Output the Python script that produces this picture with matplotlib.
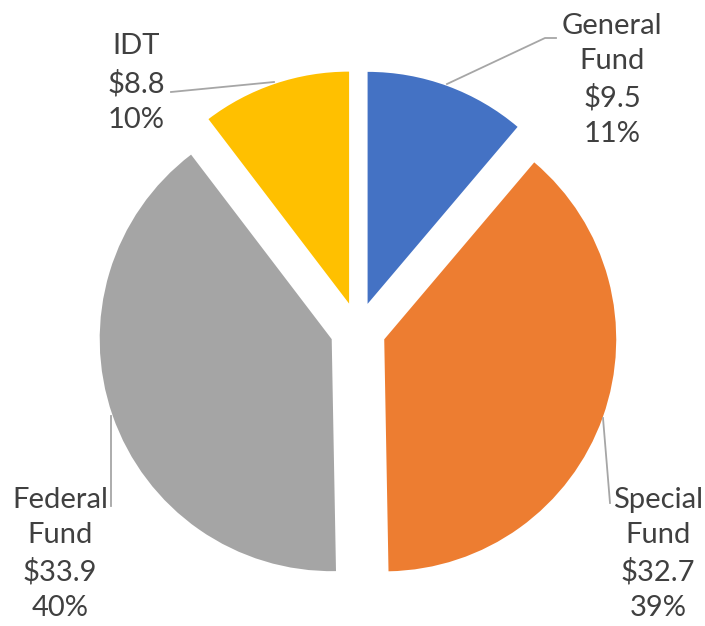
import matplotlib
matplotlib.use('Agg')
from matplotlib import pyplot as plt

# data
funds = ['General\nFund', 'Special\nFund', 'Federal\nFund', 'IDT']
amounts = [9.5, 32.7, 33.9, 8.8]
colors = ['#4472C4', '#ED7D31', '#A5A5A5', '#FFC000']

plt.rcParams['font.family'] = ['Lato', 'DejaVu Sans']

W, H = 705, 626
CX, CY, R = 358, 330, 232   # pie centre / radius in pixels


def px(x, y):
    # pixel position -> data units (pie radius = 1)
    return (x - CX) / R, (CY - y) / R


fig = plt.figure(figsize=(W / 100, H / 100), dpi=100)
ax = fig.add_axes([0, 0, 1, 1])

explode = [0.12] * len(amounts)
wedges, _ = ax.pie(amounts, colors=colors, startangle=90, counterclock=False,
                   explode=explode, radius=1)

total = sum(amounts)
# label centres and leader lines
label_pos = [px(612, 80), px(658, 554), px(60, 554), px(136, 83)]
leaders = [
    [px(447, 84), px(545, 38), px(556, 38)],
    [px(603, 418), px(610, 503)],
    [px(111, 416), px(111, 506)],
    [px(274, 82), px(171, 92)],
]

for name, val, pos, pts in zip(funds, amounts, label_pos, leaders):
    pct = round(val / total * 100)
    txt = f'{name}\n${val}\n{pct}%'
    ax.text(pos[0], pos[1], txt, ha='center', va='center', fontsize=21,
            color='#404040', linespacing=1.45)
    xs, ys = zip(*pts)
    ax.plot(xs, ys, color='#A6A6A6', linewidth=1.3)

ax.set_xlim(-CX / R, (W - CX) / R)
ax.set_ylim(-(H - CY) / R, CY / R)
ax.set_aspect('equal')
ax.axis('off')

fig.savefig('out.png', dpi=100)
